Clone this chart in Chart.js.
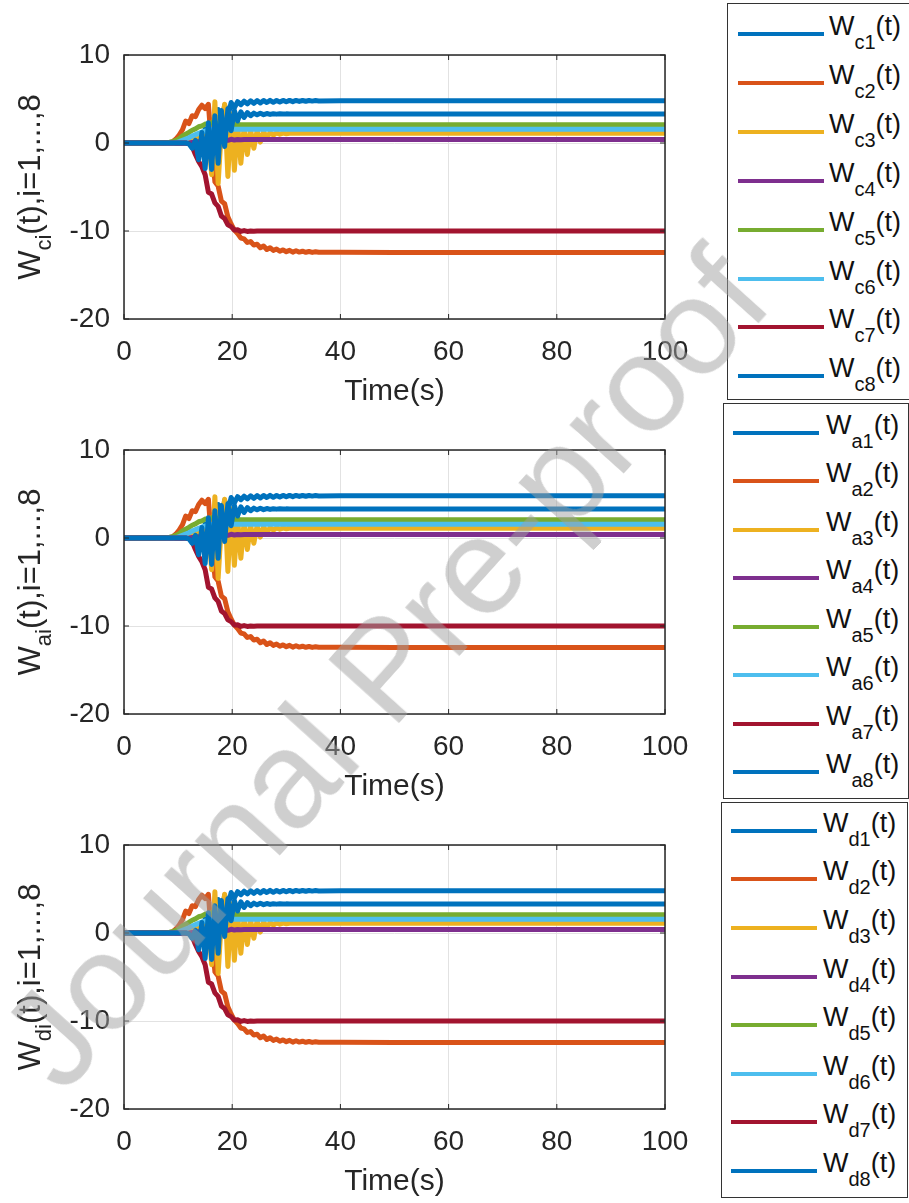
<!DOCTYPE html>
<html lang="en">
<head>
    <meta charset="UTF-8">
    <title>Weights W_c, W_a, W_d</title>
    <script src="https://cdn.jsdelivr.net/npm/chart.js"></script>
    <style>
        body {
            margin: 0;
            background: #ffffff;
            font-family: "Liberation Sans", Arial, sans-serif;
            color: #262626;
        }
        .page {
            position: relative;
            width: 909px;
            height: 1203px;
            overflow: hidden;
        }
        .plot {
            position: absolute;
            left: 0;
            width: 700px;
            height: 410px;
        }
        .ylabel {
            position: absolute;
            font-size: 31px;
            line-height: 31px;
            white-space: nowrap;
            transform: translate(-50%, -50%) rotate(-90deg);
        }
        .ylabel .sub {
            position: relative;
            top: 11px;
            font-size: 22px;
        }
        .legend {
            position: absolute;
            border: 1.5px solid #333333;
            background: #ffffff;
            box-sizing: border-box;
        }
        .legend .line {
            position: absolute;
            height: 4px;
        }
        .legend .txt {
            position: absolute;
            font-size: 27px;
            line-height: 27px;
            white-space: nowrap;
            color: #111111;
        }
        .legend .txt .sub {
            position: relative;
            top: 14px;
            font-size: 20px;
        }
        .watermark {
            position: absolute;
            font-size: 138px;
            line-height: 138px;
            white-space: nowrap;
            color: rgba(160, 160, 160, 0.5);
            transform: translate(-50%, -50%) rotate(-48deg);
            pointer-events: none;
        }
    </style>
</head>
<body>
<div class="page" id="page">
    <div class="plot" style="top:0px"><canvas id="chartC"></canvas></div>
    <div class="plot" style="top:395px"><canvas id="chartA"></canvas></div>
    <div class="plot" style="top:790px"><canvas id="chartD"></canvas></div>
    <div class="ylabel" style="left:31px; top:187px">W<span class="sub">ci</span>(t),i=1,...,8</div>
    <div class="ylabel" style="left:31px; top:582px">W<span class="sub">ai</span>(t),i=1,...,8</div>
    <div class="ylabel" style="left:31px; top:977px">W<span class="sub">di</span>(t),i=1,...,8</div>
    <div class="watermark" style="left:384px; top:668px">Journal Pre-proof</div>
</div>
<script>
    // time axis (s)
    const timeS = [0, 3, 6, 6.6, 7.2, 7.8, 8.4, 9, 9.6, 10.2,
        10.8, 11.4, 12, 12.6, 13.2, 13.8, 14.4, 15, 15.6, 16.2,
        16.8, 17.4, 18, 18.6, 19.2, 19.8, 20.4, 21, 21.6, 22.2,
        22.8, 23.4, 24, 24.6, 25.2, 25.8, 26.4, 27, 27.6, 28.2,
        28.8, 29.4, 30, 30.6, 31.2, 31.8, 32.4, 33, 33.6, 34.2,
        34.8, 35.4, 36, 40, 50, 60, 80, 100];

    // weight trajectories (the three panels look the same)
    const w1 = [0, 0, 0, 0, 0, 0, 0, 0, 0, 0,
        0, 0.02, 0.05, 0.2, -0.6, 0.8, -1.2, 1.6, -0.8, 2.6,
        0.6, 3.8, 1.9, 4.3, 3.0, 4.6, 4.0, 4.7, 4.35, 4.75,
        4.45, 4.8, 4.5, 4.82, 4.55, 4.83, 4.6, 4.84, 4.62, 4.84,
        4.65, 4.84, 4.68, 4.84, 4.7, 4.84, 4.72, 4.83, 4.74, 4.83,
        4.76, 4.82, 4.78, 4.8, 4.8, 4.8, 4.8, 4.8];
    const w2 = [0, 0, 0, 0, 0, 0.02, 0.05, 0.15, 0.45, 0.9,
        1.5, 2.5, 2.2, 3.1, 3.0, 3.8, 4.3, 3.9, 4.4, -0.5,
        -4.4, -4.9, -6.6, -6.9, -8.4, -9.2, -9.9, -10.3, -10.8, -10.9,
        -11.3, -11.2, -11.6, -11.5, -11.9, -11.7, -12.1, -11.9, -12.2, -12.05,
        -12.3, -12.15, -12.35, -12.2, -12.4, -12.25, -12.4, -12.3, -12.42, -12.33,
        -12.43, -12.36, -12.42, -12.42, -12.43, -12.43, -12.43, -12.43];
    const w3 = [0, 0, 0, 0, 0, 0, 0, 0, 0.02, 0.05,
        0.1, 0.2, 0.3, 0.5, 0.7, 0.5, 0.9, 0.4, 1.4, -3.6,
        4.7, -4.6, 1.5, 4.4, -3.8, 3.3, -3.1, 2.2, -2.3, 1.8,
        -1.3, 1.5, -0.6, 1.4, 0.1, 1.3, 0.6, 1.2, 0.9, 1.15,
        1.0, 1.12, 1.06, 1.1, 1.1, 1.1, 1.1, 1.1, 1.1, 1.1,
        1.1, 1.1, 1.1, 1.1, 1.1, 1.1, 1.1, 1.1];
    const w4 = [0, 0, 0, 0, 0, 0, 0, 0, 0, 0,
        0, 0, 0, 0.05, 0.1, 0.15, 0.1, 0.2, 0.1, 0.3,
        0.15, 0.4, 0.25, 0.45, 0.3, 0.42, 0.35, 0.4, 0.38, 0.4,
        0.4, 0.4, 0.4, 0.4, 0.4, 0.4, 0.4, 0.4, 0.4, 0.4,
        0.4, 0.4, 0.4, 0.4, 0.4, 0.4, 0.4, 0.4, 0.4, 0.4,
        0.4, 0.4, 0.4, 0.4, 0.4, 0.4, 0.4, 0.4];
    const w5 = [0, 0, 0.01, 0.02, 0.03, 0.05, 0.08, 0.15, 0.3, 0.5,
        0.8, 1.0, 1.2, 1.45, 1.6, 1.85, 1.95, 2.15, 2.2, 2.3,
        2.2, 2.25, 2.1, 2.15, 2.05, 2.1, 2.07, 2.1, 2.08, 2.08,
        2.08, 2.08, 2.08, 2.08, 2.08, 2.08, 2.08, 2.08, 2.08, 2.08,
        2.08, 2.08, 2.08, 2.08, 2.08, 2.08, 2.08, 2.08, 2.08, 2.08,
        2.08, 2.08, 2.08, 2.08, 2.08, 2.08, 2.08, 2.08];
    const w6 = [0, 0, 0, 0, 0, 0, 0, 0, 0.05, 0.15,
        0.3, 0.45, 0.6, 0.8, 0.95, 1.1, 1.25, 1.35, 1.45, 1.55,
        1.6, 1.55, 1.6, 1.55, 1.57, 1.55, 1.55, 1.55, 1.55, 1.55,
        1.55, 1.55, 1.55, 1.55, 1.55, 1.55, 1.55, 1.55, 1.55, 1.55,
        1.55, 1.55, 1.55, 1.55, 1.55, 1.55, 1.55, 1.55, 1.55, 1.55,
        1.55, 1.55, 1.55, 1.55, 1.55, 1.55, 1.55, 1.55];
    const w7 = [0, 0, 0, 0, 0, 0, 0, 0, 0, 0,
        0, 0, -0.1, -0.4, -1.3, -2.1, -2.7, -3.6, -5.6, -5.8,
        -6.8, -7.2, -8.3, -8.6, -9.3, -9.5, -9.9, -9.85, -10.05, -9.95,
        -10.05, -10, -10.02, -10, -10, -10, -10, -10, -10, -10,
        -10, -10, -10, -10, -10, -10, -10, -10, -10, -10,
        -10, -10, -10, -10, -10, -10, -10, -10];
    const w8 = [0, 0, 0, 0, 0, 0, 0, 0, 0, 0,
        0, 0, -0.1, -0.6, 0.3, -1.9, 1.2, -2.9, 2.3, -3.0,
        3.1, -2.3, 3.7, -0.4, 3.9, 1.4, 3.7, 2.5, 3.55, 2.9,
        3.45, 3.1, 3.4, 3.2, 3.38, 3.22, 3.35, 3.25, 3.33, 3.28,
        3.32, 3.29, 3.31, 3.3, 3.3, 3.3, 3.3, 3.3, 3.3, 3.3,
        3.3, 3.3, 3.3, 3.3, 3.3, 3.3, 3.3, 3.3];

    const seriesNames = ['1', '2', '3', '4', '5', '6', '7', '8'];
    const panelLetters = ['c', 'a', 'd'];
    const xTicks = [0, 20, 40, 60, 80, 100];
    const yTicks = [-20, -10, 0, 10];

    const series = [w1, w2, w3, w4, w5, w6, w7, w8];
    const colors = ['#0072BD', '#D95319', '#EDB120', '#7E2F8E',
        '#77AC30', '#4DBEEE', '#A2142F', '#0072BD'];
    const FONT = '"Liberation Sans", Arial, sans-serif';
    const AX = '#262626';

    // box around the axes plus short inward ticks, matlab style
    const boxPlugin = {
        id: 'box',
        afterDatasetsDraw(chart) {
            const {ctx, chartArea: a, scales} = chart;
            ctx.save();
            ctx.strokeStyle = AX;
            ctx.lineWidth = 1.5;
            ctx.strokeRect(a.left, a.top, a.right - a.left, a.bottom - a.top);
            ctx.lineWidth = 1;
            ctx.beginPath();
            xTicks.forEach(v => {
                const px = scales.x.getPixelForValue(v);
                ctx.moveTo(px, a.bottom); ctx.lineTo(px, a.bottom - 5);
                ctx.moveTo(px, a.top); ctx.lineTo(px, a.top + 5);
            });
            yTicks.forEach(v => {
                const py = scales.y.getPixelForValue(v);
                ctx.moveTo(a.left, py); ctx.lineTo(a.left + 5, py);
                ctx.moveTo(a.right, py); ctx.lineTo(a.right - 5, py);
            });
            ctx.stroke();
            ctx.restore();
        }
    };

    function makeChart(id) {
        const datasets = series.map((s, i) => ({
            data: timeS.map((t, k) => ({x: t, y: s[k]})),
            borderColor: colors[i],
            borderWidth: 5,
            borderJoinStyle: 'round',
            borderCapStyle: 'round',
            pointRadius: 0,
            tension: 0,
            fill: false,
            order: series.length - i
        }));
        new Chart(document.getElementById(id), {
            type: 'line',
            data: {datasets: datasets},
            plugins: [boxPlugin],
            options: {
                responsive: true,
                maintainAspectRatio: false,
                animation: false,
                layout: {padding: {top: 55, right: 35, left: 0, bottom: 0}},
                plugins: {legend: {display: false}, tooltip: {enabled: false}},
                scales: {
                    x: {
                        type: 'linear', min: 0, max: 100,
                        afterBuildTicks: s => { s.ticks = xTicks.map(v => ({value: v})); },
                        afterFit: s => { s.height = 91; s.paddingLeft = 0; s.paddingRight = 0; },
                        ticks: {color: AX, font: {family: FONT, size: 28}, padding: 16, maxRotation: 0, autoSkip: false},
                        grid: {color: '#e2e2e2', drawTicks: false},
                        border: {display: false},
                        title: {display: true, text: 'Time(s)', color: AX, font: {family: FONT, size: 30}, padding: 0}
                    },
                    y: {
                        min: -20, max: 10,
                        afterBuildTicks: s => { s.ticks = yTicks.map(v => ({value: v})); },
                        afterFit: s => { s.width = 124; s.paddingTop = 0; s.paddingBottom = 0; },
                        ticks: {color: AX, font: {family: FONT, size: 28}, padding: 14, autoSkip: false},
                        grid: {color: '#e2e2e2', drawTicks: false},
                        border: {display: false}
                    }
                }
            }
        });
    }

    makeChart('chartC');
    makeChart('chartA');
    makeChart('chartD');

    // legends (html, for the subscripts)
    const legendBoxes = [
        {left: 727, top: 3, width: 200, height: 397, lineX: 10, textX: 101, row0: 30, gap: 48.9},
        {left: 723, top: 403, width: 186, height: 396, lineX: 9, textX: 102, row0: 28.7, gap: 48.5},
        {left: 721, top: 802, width: 187, height: 396, lineX: 9, textX: 101, row0: 27.7, gap: 48.6}
    ];
    const page = document.getElementById('page');
    legendBoxes.forEach((b, p) => {
        const box = document.createElement('div');
        box.className = 'legend';
        box.style.left = b.left + 'px';
        box.style.top = b.top + 'px';
        box.style.width = b.width + 'px';
        box.style.height = b.height + 'px';
        seriesNames.forEach((n, i) => {
            const cy = b.row0 + i * b.gap;
            const ln = document.createElement('div');
            ln.className = 'line';
            ln.style.left = b.lineX + 'px';
            ln.style.width = '86px';
            ln.style.top = (cy - 2) + 'px';
            ln.style.background = colors[i];
            box.appendChild(ln);
            const tx = document.createElement('div');
            tx.className = 'txt';
            tx.style.left = b.textX + 'px';
            tx.style.top = (cy + 2 - 23) + 'px';
            tx.innerHTML = 'W<span class="sub">' + panelLetters[p] + n + '</span>(t)';
            box.appendChild(tx);
        });
        page.insertBefore(box, page.querySelector('.watermark'));
    });
</script>
</body>
</html>
